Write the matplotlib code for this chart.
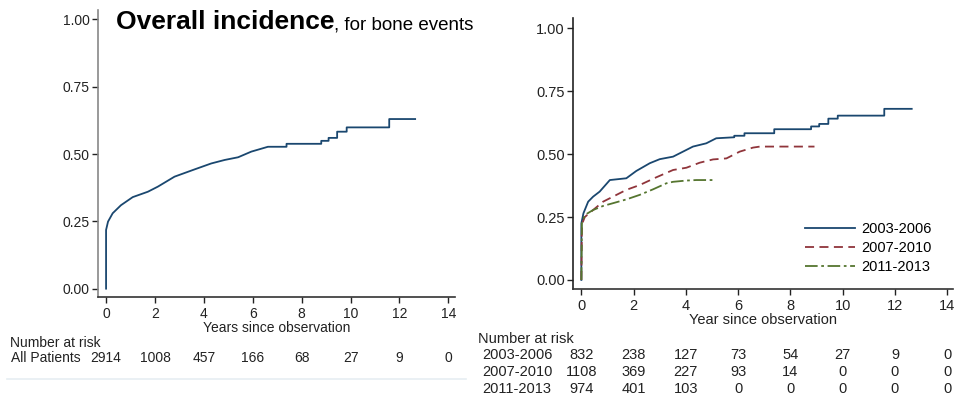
import matplotlib
matplotlib.use("Agg")
import matplotlib.pyplot as plt
from matplotlib.transforms import blended_transform_factory
from matplotlib.lines import Line2D

plt.rcParams['font.family'] = ['Liberation Sans', 'DejaVu Sans']

# ---- data ----
# left panel: all patients
all_t = [0, 0, 0.08, 0.27, 0.61, 1.09, 1.71, 2.12, 2.8, 3.62, 4.3, 4.85, 5.4, 5.94, 6.62,
         7.38, 7.38, 8.8, 8.8, 9.1, 9.1, 9.45, 9.45, 9.84, 9.84, 11.58, 11.58, 12.64]
all_v = [0, 0.218, 0.249, 0.28, 0.31, 0.34, 0.36, 0.379, 0.416, 0.443, 0.465, 0.478, 0.488, 0.509, 0.527,
         0.527, 0.538, 0.538, 0.549, 0.549, 0.56, 0.56, 0.583, 0.583, 0.599, 0.599, 0.63, 0.63]

# right panel: by period
p1_t = [0, 0, 0.08, 0.26, 0.45, 0.7, 1.09, 1.72, 2.1, 2.62, 3.0, 3.51, 3.89, 4.27, 4.78, 5.16,
        5.85, 5.85, 6.24, 6.24, 7.38, 7.38, 8.79, 8.79, 9.1, 9.1, 9.45, 9.45, 9.81, 9.81, 11.59, 11.59, 12.64]
p1_v = [0, 0.225, 0.265, 0.311, 0.331, 0.351, 0.397, 0.404, 0.433, 0.464, 0.48, 0.49, 0.51, 0.53, 0.543, 0.563,
        0.567, 0.573, 0.573, 0.583, 0.583, 0.599, 0.599, 0.61, 0.61, 0.62, 0.62, 0.641, 0.641, 0.653, 0.653, 0.68, 0.68]
p2_t = [0, 0.02, 0.13, 0.45, 0.83, 1.21, 1.72, 2.23, 2.87, 3.51, 4.02, 4.53, 5.04, 5.55, 6.06, 6.57, 6.83, 8.92]
p2_v = [0, 0.22, 0.25, 0.278, 0.311, 0.331, 0.358, 0.377, 0.408, 0.437, 0.446, 0.466, 0.479, 0.483, 0.51, 0.526, 0.53, 0.53]
p3_t = [0, 0.02, 0.13, 0.45, 0.83, 1.21, 1.72, 2.23, 2.74, 3.25, 3.51, 4.02, 4.4, 5.03]
p3_v = [0, 0.225, 0.258, 0.278, 0.294, 0.305, 0.32, 0.338, 0.36, 0.384, 0.39, 0.395, 0.397, 0.397]

periods = ['2003-2006', '2007-2010', '2011-2013']
risk_times = [0, 2, 4, 6, 8, 10, 12, 14]
risk_all = [2914, 1008, 457, 166, 68, 27, 9, 0]
risk_periods = [
    [832, 238, 127, 73, 54, 27, 9, 0],
    [1108, 369, 227, 93, 14, 0, 0, 0],
    [974, 401, 103, 0, 0, 0, 0, 0],
]
yticks = [0, 0.25, 0.5, 0.75, 1.0]

navy = '#1a476f'
maroon = '#90353b'
green = '#55752f'

W, H = 956, 397
fig = plt.figure(figsize=(W / 100, H / 100), dpi=100)


def px_x(x):
    return x / W


def px_y(y):
    return 1 - y / H


def style_axes(ax, fs, ycol):
    for s in ['top', 'right']:
        ax.spines[s].set_visible(False)
    ax.spines['left'].set_color(ycol)
    ax.spines['bottom'].set_color('#333333')
    ax.spines['left'].set_linewidth(1.2)
    ax.spines['bottom'].set_linewidth(1.2)
    ax.set_xticks(risk_times)
    ax.set_yticks(yticks)
    ax.set_yticklabels(['%.2f' % v for v in yticks])
    ax.tick_params(labelsize=fs, length=4, width=1, colors='#222222', pad=2)
    ax.tick_params(axis='x', pad=3)


# ---- left panel ----
axL = fig.add_axes([px_x(98), px_y(297), (455 - 98) / W, (297 - 10) / H])
axL.plot(all_t, all_v, color=navy, lw=1.3)
axL.set_xlim(-0.33, 14.27)
axL.set_ylim(-0.031, 1.035)
style_axes(axL, 10, '#888888')
axL.set_xlabel('Years since observation', fontsize=10, labelpad=0, color='#222222')

fig.text(px_x(116), px_y(29), 'Overall incidence', fontsize=19, fontweight='bold', va='baseline')
fig.text(px_x(334), px_y(29), ', for bone events', fontsize=13.5, va='baseline')

trL = blended_transform_factory(axL.transData, fig.transFigure)
fig.text(px_x(10), px_y(343), 'Number at risk', fontsize=10, va='center', color='#222222')
fig.text(px_x(11), px_y(358), 'All Patients', fontsize=10, va='center', color='#222222')
for t, n in zip(risk_times, risk_all):
    axL.text(t, px_y(358), str(n), transform=trL, ha='center', va='center', fontsize=10, color='#222222')
fig.add_artist(Line2D([px_x(7), px_x(466)], [px_y(379), px_y(379)], color='#e6eef2', lw=1.2))

# ---- right panel ----
axR = fig.add_axes([px_x(573), px_y(289), (953 - 573) / W, (289 - 18) / H])
axR.plot(p1_t, p1_v, color=navy, lw=1.3, label=periods[0])
axR.plot(p2_t, p2_v, color=maroon, lw=1.3, ls=(0, (5, 3)), label=periods[1])
axR.plot(p3_t, p3_v, color=green, lw=1.3, ls=(0, (7, 2, 1.5, 2)), label=periods[2])
axR.set_xlim(-0.32, 14.22)
axR.set_ylim(-0.036, 1.041)
style_axes(axR, 10.5, '#222222')
axR.set_xlabel('Year since observation', fontsize=10.5, labelpad=0, color='#222222')
axR.legend(loc='upper left', bbox_to_anchor=((805 - 573) / 380, (289 - 222) / 271),
           frameon=False, fontsize=10.5, borderpad=0, handlelength=3.4, handletextpad=0.45,
           labelspacing=0.35, borderaxespad=0)

trR = blended_transform_factory(axR.transData, fig.transFigure)
fig.text(px_x(478), px_y(339), 'Number at risk', fontsize=10.5, va='center', color='#222222')
row_y = [355, 372, 389]
for lab, counts, yy in zip(periods, risk_periods, row_y):
    fig.text(px_x(482), px_y(yy), lab, fontsize=10.5, va='center', color='#222222')
    for t, n in zip(risk_times, counts):
        axR.text(t, px_y(yy), str(n), transform=trR, ha='center', va='center', fontsize=10.5, color='#222222')

fig.savefig('out.png', dpi=100)
